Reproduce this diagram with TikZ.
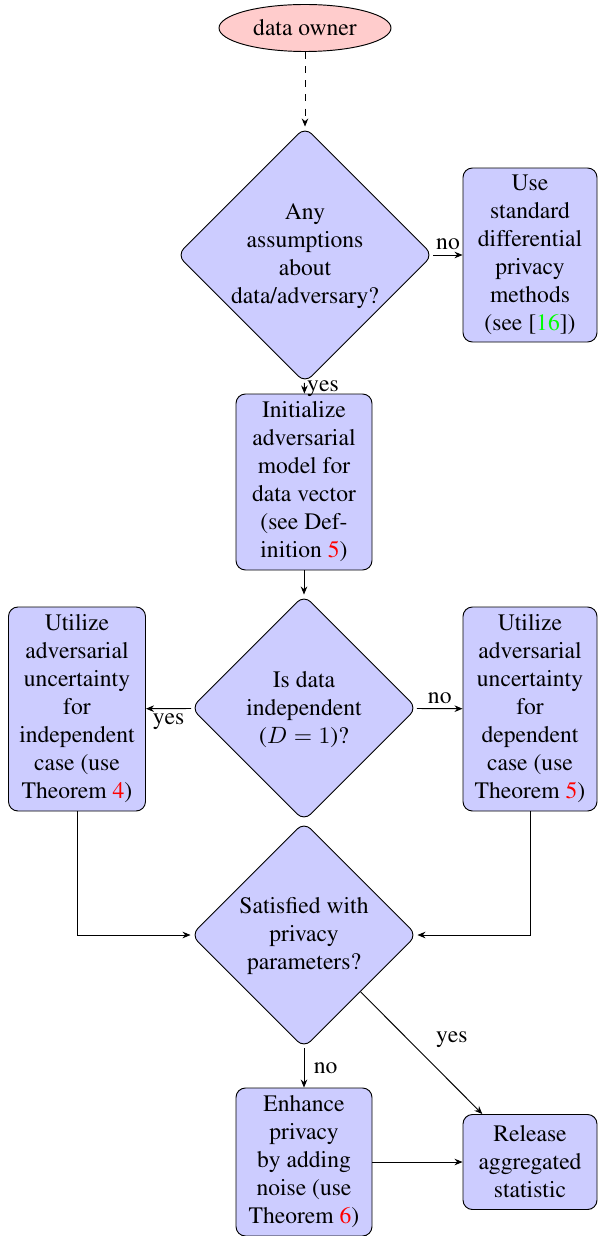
\documentclass[tikz,border=0pt]{standalone}
\usepackage[T1]{fontenc}
\renewcommand{\rmdefault}{ptm}
\usetikzlibrary{shapes.geometric,arrows.meta}
\newcommand{\pxu}{0.424pt}
\definecolor{refred}{RGB}{255,0,0}
\definecolor{refgreen}{RGB}{0,255,0}
\begin{document}
\begin{tikzpicture}[x=\pxu, y=-\pxu, font=\rmfamily\fontsize{10}{11.87}\selectfont,
  box/.style={rectangle, rounded corners=4pt, draw, fill=blue!20, align=center, inner sep=1pt},
  dia/.style={diamond, aspect=1, draw, fill=blue!20, rounded corners=4pt, inner sep=0pt},
  lbl/.style={align=center, inner sep=0pt},
  elab/.style={inner sep=2pt},
  arr/.style={-{Stealth[length=3.4pt,width=2.8pt]}}]
\useasboundingbox (0,0) rectangle (597,1236);
% nodes
\node[ellipse, draw, fill=red!20, minimum width={172*\pxu}, minimum height={47*\pxu}, inner sep=0pt] (owner) at (305,28) {data owner};
\node[dia, minimum size={256*\pxu}] (d1) at (305,255) {};
\node[lbl] (d1t) at (305,256) {Any\\assumptions\\about\\data/adversary?};
\node[box, minimum width={134*\pxu}, minimum height={174*\pxu}] (use) at (530,255) {Use\\standard\\differential\\privacy\\methods\\(see [\textcolor{refgreen}{16}])};
\node[box, minimum width={136*\pxu}, minimum height={176*\pxu}] (init) at (304,482) {Initialize\\adversarial\\model for\\data vector\\(see Def-\\inition \textcolor{refred}{5})};
\node[dia, minimum size={226*\pxu}] (d2) at (304,708) {};
\node[lbl] (d2t) at (304,710) {Is data\\independent\\($D=1$)?};
\node[box, minimum width={137*\pxu}, minimum height={204*\pxu}] (lbox) at (77,709) {Utilize\\adversarial\\uncertainty\\for\\independent\\case (use\\Theorem \textcolor{refred}{4})};
\node[box, minimum width={134*\pxu}, minimum height={204*\pxu}] (rbox) at (530,709) {Utilize\\adversarial\\uncertainty\\for\\dependent\\case (use\\Theorem \textcolor{refred}{5})};
\node[dia, minimum size={226*\pxu}] (d3) at (304,935) {};
\node[lbl] (d3t) at (304,936) {Satisfied with\\privacy\\parameters?};
\node[box, minimum width={136*\pxu}, minimum height={148*\pxu}] (enh) at (304,1162) {Enhance\\privacy\\by adding\\noise (use\\Theorem \textcolor{refred}{6})};
\node[box, minimum width={134*\pxu}, minimum height={95*\pxu}] (rel) at (530,1162) {Release\\aggregated\\statistic};
% connectors
\draw[arr, dashed] (owner) -- (d1);
\draw[arr] (d1) -- node[above, elab] {no} (use);
\draw[arr] (d1) -- node[right, elab, xshift=-1pt] {yes} (init);
\draw[arr] (init) -- (d2);
\draw[arr] (d2) -- node[below, elab] {yes} (lbox);
\draw[arr] (d2) -- node[above, elab] {no} (rbox);
\draw[arr] (lbox.south) |- (d3.west);
\draw[arr] (rbox.south) |- (d3.east);
\draw[arr] (d3) -- node[right, elab, xshift=2pt] {no} (enh);
\draw[arr] (d3) -- node[above right, elab, xshift=4pt] {yes} (rel);
\draw[arr] (enh) -- (rel);
\end{tikzpicture}
\end{document}
